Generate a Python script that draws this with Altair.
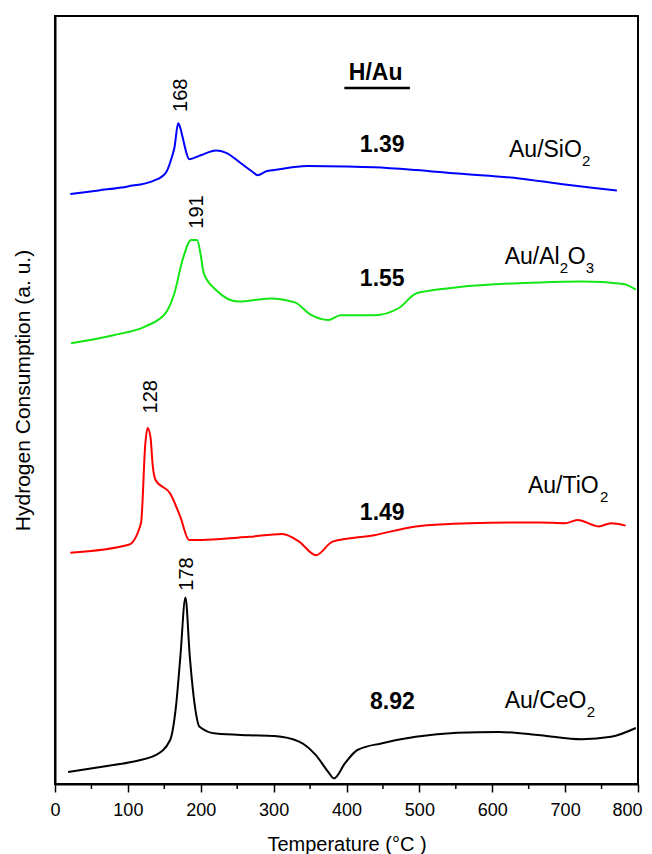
import altair as alt
import pandas as pd

FONT = "Liberation Sans"

# ---- TPR curves (temperature in °C, signal in a.u., curves stacked) ----
T_sio2 = [21, 60, 100, 135, 152, 160, 164, 169, 172, 175, 180, 184, 200, 221, 235, 255, 270, 278, 290, 301, 346, 400, 438, 495, 552, 637, 694, 740, 771]
v_sio2 = [73.75, 74.2, 74.7, 75.4, 76.4, 78.25, 79.6, 82.6, 82.0, 80.9, 79.0, 78.1, 78.6, 79.2, 78.9, 77.6, 76.6, 76.1, 76.6, 76.75, 77.25, 77.2, 77.1, 76.75, 76.3, 75.7, 75.0, 74.5, 74.2]

T_al2o3 = [22, 80, 124, 152, 164, 175, 187, 195, 200, 204, 221, 252, 295, 329, 352, 375, 392, 438, 472, 495, 520, 552, 666, 723, 780, 797]
v_al2o3 = [55.1, 56.1, 57.2, 58.9, 61.4, 65.5, 68.0, 68.0, 66.1, 63.9, 61.75, 60.3, 60.7, 60.2, 58.6, 58.0, 58.6, 58.6, 59.5, 61.3, 61.75, 62.1, 62.7, 62.8, 62.5, 61.8]

T_tio2 = [21, 101, 118, 124, 127, 131, 134, 138, 158, 172, 184, 190, 266, 312, 335, 358, 381, 438, 495, 569, 666, 700, 717, 746, 763, 783]
v_tio2 = [28.9, 29.9, 32.6, 42.6, 44.5, 43.4, 39.9, 38.0, 36.3, 33.4, 30.5, 30.5, 30.9, 31.25, 30.3, 28.6, 30.3, 31.1, 32.2, 32.6, 32.7, 32.6, 33.0, 32.2, 32.6, 32.3]

T_ceo2 = [18, 67, 101, 138, 158, 166, 172, 179, 185, 192, 198, 221, 266, 301, 335, 358, 375, 383, 398, 415, 449, 495, 552, 609, 666, 723, 763, 797]
v_ceo2 = [1.5, 2.2, 2.7, 3.6, 5.5, 9.7, 15.9, 23.3, 15.9, 9.7, 7.2, 6.3, 6.1, 6.0, 5.3, 3.6, 1.5, 0.7, 2.6, 4.25, 5.1, 5.9, 6.4, 6.5, 6.1, 5.6, 5.9, 7.0]

series_names = ["SiO2", "Al2O3", "TiO2", "CeO2"]
series_colors = ["#0000ff", "#14e614", "#ff0000", "#000000"]

# ---- peak temperature labels ----
peak_text = ["168", "191", "128", "178"]
peak_T = [173, 195, 132, 181]
peak_v = [86.1, 71.5, 48.4, 26.25]

# ---- H/Au values ----
hau_text = ["1.39", "1.55", "1.49", "8.92"]
hau_T = [449, 449, 449, 463]
hau_v = [79.9, 63.1, 33.9, 10.25]

# ---- header ----
header_text = ["H/Au"]
header_T = [440]
header_v = [88.9]
underline_T = [397]
underline_T2 = [487]
underline_v = [87.0]

# ---- sample labels (left edge T, baseline v) ----
sample_T = [623, 617, 649, 617]
sample_v = [78.4, 65.0, 36.4, 9.5]
# pieces: (text, dx in px from left edge, subscript?)
sample_pieces = [
    [("Au/SiO", 0, False), ("2", 73, True)],
    [("Au/Al", 0, False), ("2", 55, True), ("O", 63, False), ("3", 81, True)],
    [("Au/TiO", 0, False), ("2", 72, True)],
    [("Au/CeO", 0, False), ("2", 82, True)],
]

major_ticks = list(range(0, 801, 100))
minor_ticks = list(range(50, 800, 100))

rows = []
for name, Ts, vs in zip(series_names, [T_sio2, T_al2o3, T_tio2, T_ceo2], [v_sio2, v_al2o3, v_tio2, v_ceo2]):
    for i, (t, v) in enumerate(zip(Ts, vs)):
        rows.append({"sample": name, "T": t, "v": v, "i": i})
curves = pd.DataFrame(rows)

xscale = alt.Scale(domain=[0, 800], nice=False, zero=False)
yscale = alt.Scale(domain=[0, 96], nice=False, zero=False)

xaxis = alt.Axis(values=major_ticks, tickSize=8, tickWidth=1.5, tickColor="black",
                 labelPadding=9, labelFontSize=18, labelFont=FONT, labelColor="black",
                 labelOffset=alt.condition("datum.value == 800", alt.value(-11), alt.value(0)),
                 labelFlush=False, labelBound=False, domainColor="black", domainWidth=2, grid=False,
                 title="Temperature (°C )", titleFont=FONT, titleFontSize=20,
                 titleFontWeight="normal", titleColor="black", titleY=66,
                 titleBaseline="alphabetic")
yaxis = alt.Axis(ticks=False, labels=False, domainColor="black", domainWidth=2, grid=False,
                 title="Hydrogen Consumption (a. u.)", titleFont=FONT, titleFontSize=21,
                 titleFontWeight="normal", titleColor="black", titleAngle=270,
                 titleX=-32, titleY=374, titleAlign="center", titleBaseline="middle")

lines = alt.Chart(curves).mark_line(strokeWidth=2, interpolate="monotone").encode(
    x=alt.X("T:Q", scale=xscale, axis=xaxis),
    y=alt.Y("v:Q", scale=yscale, axis=yaxis),
    color=alt.Color("sample:N", scale=alt.Scale(domain=series_names, range=series_colors), legend=None),
    order="i:Q",
)

minor = alt.Chart(pd.DataFrame({"T": minor_ticks})).mark_rule(color="black", strokeWidth=1.5).encode(
    x=alt.X("T:Q", scale=xscale),
    y=alt.value(768),
    y2=alt.value(773),
)

peaks = alt.Chart(pd.DataFrame({"t": peak_text, "T": peak_T, "v": peak_v})).mark_text(
    angle=270, align="center", baseline="middle", font=FONT, fontSize=20, color="black"
).encode(x=alt.X("T:Q", scale=xscale), y=alt.Y("v:Q", scale=yscale), text="t:N")

hau = alt.Chart(pd.DataFrame({"t": hau_text, "T": hau_T, "v": hau_v})).mark_text(
    align="center", baseline="middle", font=FONT, fontSize=23, fontWeight="bold", color="black"
).encode(x=alt.X("T:Q", scale=xscale), y=alt.Y("v:Q", scale=yscale), text="t:N")

header = alt.Chart(pd.DataFrame({"t": header_text, "T": header_T, "v": header_v})).mark_text(
    align="center", baseline="middle", font=FONT, fontSize=23, fontWeight="bold", color="black"
).encode(x=alt.X("T:Q", scale=xscale), y=alt.Y("v:Q", scale=yscale), text="t:N")

underline = alt.Chart(pd.DataFrame({"T": underline_T, "T2": underline_T2, "v": underline_v})).mark_rule(
    color="black", strokeWidth=2.5
).encode(x=alt.X("T:Q", scale=xscale), x2="T2:Q", y=alt.Y("v:Q", scale=yscale))

label_layers = []
for Tl, vl, pieces in zip(sample_T, sample_v, sample_pieces):
    for text, dx, sub in pieces:
        df = pd.DataFrame({"t": [text], "T": [Tl], "v": [vl]})
        label_layers.append(
            alt.Chart(df).mark_text(
                align="left", baseline="alphabetic", font=FONT,
                fontSize=15 if sub else 23, dx=dx, dy=9 if sub else 0, color="black"
            ).encode(x=alt.X("T:Q", scale=xscale), y=alt.Y("v:Q", scale=yscale), text="t:N")
        )

chart = alt.layer(lines, minor, peaks, hau, header, underline, *label_layers).properties(
    width=583, height=768,
    autosize=alt.AutoSizeParams(type="none"),
    padding={"left": 47, "top": 8, "right": 6, "bottom": 70},
).configure_view(stroke="black", strokeWidth=2)

chart.save("out.html", embed_options={"renderer": "svg", "actions": False})
